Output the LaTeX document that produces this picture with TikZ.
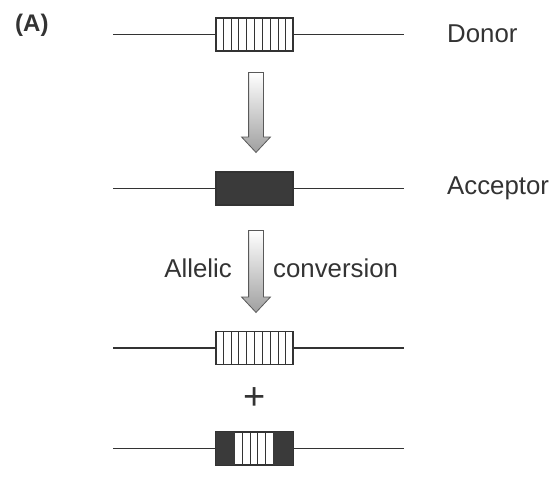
\documentclass[tikz,border=0pt]{standalone}
\usepackage{fontspec}
\setmainfont{Liberation Sans}
\usetikzlibrary{calc,shapes.arrows}
\definecolor{ink}{HTML}{333333}
\definecolor{dark}{HTML}{3A3A3A}
\tikzset{
  gene/.style={draw=ink, line width=1.3pt},
  genebox/.style={draw=ink, line width=1.3pt, minimum width=77pt, minimum height=33pt, inner sep=0pt, fill=white},
  stripe/.style={draw=ink, line width=0.9pt},
  lbl/.style={text=ink, font=\fontsize{25.8}{28}\selectfont, inner sep=0pt},
  bigarrow/.style={single arrow, shape border rotate=270, single arrow head extend=7pt,
    single arrow tip angle=86, inner xsep=7pt, inner ysep=0pt, draw=gray!70!black, line width=0.8pt,
    top color=white, bottom color=gray!75},
}
\begin{document}
\begin{tikzpicture}[x=1pt,y=1pt]
\useasboundingbox (0,0) rectangle (555,-478);
% label
\node[lbl, font=\fontsize{24}{28}\selectfont\bfseries, anchor=base west] (lA) at (15,-32) {(A)};
% row 1 donor
\coordinate (d1) at (113,-34.5);
\coordinate (d2) at (404,-34.5);
\node[genebox] (b1) at (254.5,-34.5) {};
\draw[gene] (d1) -- (b1.west);
\draw[gene] (b1.east) -- (d2);
\foreach \k in {1,...,9}
  \draw[stripe] ($(b1.south west)!\k/10!(b1.south east)$) -- ($(b1.north west)!\k/10!(b1.north east)$);
\node[lbl, anchor=base west] (tD) at (447,-43) {Donor};
% arrow 1
\node[bigarrow, minimum height=80pt] (ar1) at (256,-108.5) {};
% row 2 acceptor
\coordinate (a1) at (113,-188.5);
\coordinate (a2) at (404,-188.5);
\node[genebox, fill=dark] (b2) at (254.5,-188.5) {};
\draw[gene] (a1) -- (b2.west);
\draw[gene] (b2.east) -- (a2);
\node[lbl, anchor=base west] (tA) at (447,-195) {Acceptor};
% arrow 2
\node[bigarrow, minimum height=82pt] (ar2) at (256,-267.5) {};
\node[lbl, anchor=base east] (tAl) at (232,-278) {Allelic};
\node[lbl, anchor=base west] (tCo) at (273,-278) {conversion};
% row 3
\coordinate (c1) at (113,-348);
\coordinate (c2) at (404,-348);
\node[genebox] (b3) at (254.5,-348) {};
\draw[gene] (c1) -- (b3.west);
\draw[gene] (b3.east) -- (c2);
\foreach \k in {1,...,9}
  \draw[stripe] ($(b3.south west)!\k/10!(b3.south east)$) -- ($(b3.north west)!\k/10!(b3.north east)$);
% plus
\node[lbl, font=\fontsize{38}{40}\selectfont] (plus) at (255,-399) {+};
% row 4
\coordinate (e1) at (113,-448.5);
\coordinate (e2) at (404,-448.5);
\node[genebox] (b4) at (254.5,-448.5) {};
\fill[dark] (b4.south west) rectangle ($(b4.north west)!0.247!(b4.north east)$);
\fill[dark] ($(b4.south west)!0.74!(b4.south east)$) rectangle (b4.north east);
\foreach \f in {0.346,0.445,0.544,0.642}
  \draw[stripe] ($(b4.south west)!\f!(b4.south east)$) -- ($(b4.north west)!\f!(b4.north east)$);
\draw[gene] (b4.south west) rectangle (b4.north east);
\draw[gene] (e1) -- (b4.west);
\draw[gene] (b4.east) -- (e2);
\end{tikzpicture}
\end{document}
